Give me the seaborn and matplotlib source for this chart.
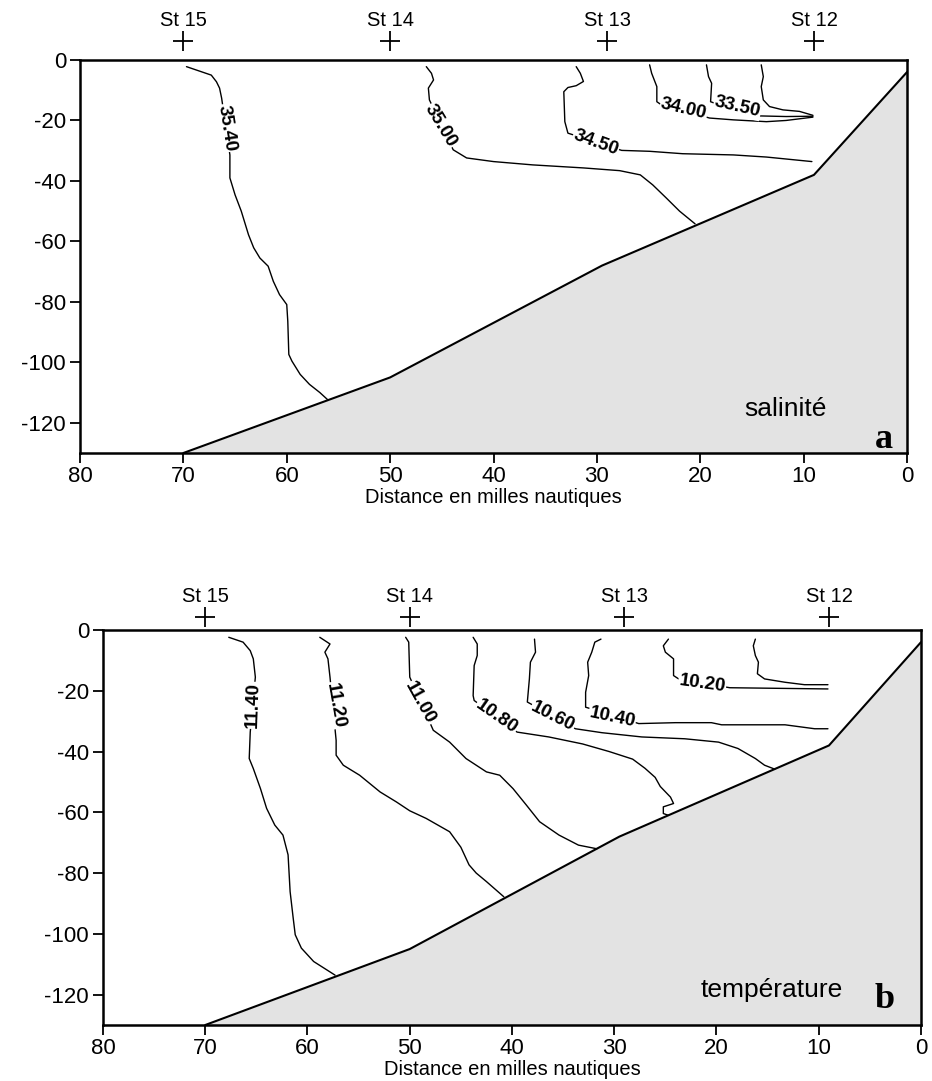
import numpy as np
import pandas as pd
import seaborn as sns
import matplotlib.pyplot as plt

# ---------------------------------------------------------------- data
stations = ["St 15", "St 14", "St 13", "St 12"]
station_dist = [70, 50, 29, 9]

bathy_dist = [70, 50, 29.5, 9, 0]
bathy_depth = [-130, -105, -68, -38, -4]

x_ticks = [80, 70, 60, 50, 40, 30, 20, 10, 0]
y_ticks = [0, -20, -40, -60, -80, -100, -120]

# salinity isolines (distance in nautical miles, depth in m)
sal_levels = [35.40, 35.00, 34.50, 34.00, 33.50, 33.00]
sal_3540_d = [69.7, 67.3, 66.8, 66.5, 66.3, 65.5, 65.5, 65.0, 64.4, 63.7, 63.2, 62.6,
              61.8, 61.3, 60.7, 60.0, 59.9, 59.8, 59.5, 58.7, 57.8, 56.8, 56.0]
sal_3540_z = [-2.2, -5.0, -7.2, -9.3, -12.6, -31.4, -39.0, -44.6, -50.0, -57.8, -62.1, -65.5,
              -68.2, -73.2, -77.6, -80.9, -86.4, -97.4, -99.6, -104.0, -107.3, -110.0, -112.5]
sal_3500_d = [46.5, 46.0, 45.8, 46.3, 46.2, 43.9, 42.6, 40.0, 36.2, 31.3, 27.8, 25.8,
              24.6, 23.3, 22.0, 20.5]
sal_3500_z = [-2.2, -4.4, -6.6, -9.3, -13.2, -29.7, -32.4, -33.6, -34.7, -35.7, -36.6, -38.0,
              -41.3, -45.6, -50.0, -54.2]
sal_3450_d = [32.0, 31.6, 31.3, 32.0, 32.8, 33.2, 33.1, 32.8, 27.6, 24.9, 21.7, 16.8, 13.6, 9.2]
sal_3450_z = [-2.2, -4.4, -7.1, -8.5, -9.1, -10.5, -20.4, -24.2, -29.9, -30.2, -31.0, -31.4,
              -32.1, -33.6]
sal_3400_d = [24.9, 24.7, 24.2, 24.2, 23.9, 19.1, 16.8, 13.6, 11.7, 9.1]
sal_3400_z = [-1.6, -4.4, -8.8, -13.8, -14.5, -19.2, -19.8, -20.4, -20.0, -18.9]
sal_3350_d = [19.4, 19.2, 18.9, 19.0, 18.6, 14.2, 11.7, 9.1]
sal_3350_z = [-1.6, -5.5, -7.7, -13.8, -14.3, -18.5, -18.7, -18.6]
sal_3300_d = [14.1, 13.9, 14.1, 13.9, 13.3, 12.0, 10.4, 9.1]
sal_3300_z = [-1.6, -5.5, -8.8, -13.2, -15.4, -16.5, -17.0, -18.3]

# salinity label anchors and angles
sal_lab_level = [35.40, 35.00, 34.50, 34.00, 33.50]
sal_lab_d = [65.8, 45.1, 30.1, 21.6, 16.4]
sal_lab_z = [-22.5, -21.8, -27.4, -16.3, -15.5]
sal_lab_rot = [-81, -59, -20, -13, -13]

# temperature isolines
tmp_levels = [11.40, 11.20, 11.00, 10.80, 10.60, 10.40, 10.20, 10.00]
tmp_1140_d = [67.7, 66.3, 65.6, 65.3, 65.1, 65.6, 65.7, 65.3, 64.6, 64.0, 63.2, 62.4,
              61.9, 61.7, 61.4, 61.2, 60.6, 59.4, 57.3]
tmp_1140_z = [-2.4, -4.0, -6.8, -9.5, -15.5, -33.6, -42.3, -45.6, -52.2, -58.7, -64.2, -67.5,
              -74.0, -86.1, -94.8, -100.3, -104.7, -109.1, -113.6]
tmp_1120_d = [58.8, 57.8, 58.3, 58.0, 57.8, 57.2, 57.2, 56.5, 54.9, 52.9, 51.3, 50.0,
              48.4, 46.1, 45.0, 44.2, 43.5, 42.5, 40.8]
tmp_1120_z = [-2.4, -4.6, -7.3, -9.5, -15.5, -36.3, -41.2, -44.5, -47.8, -53.3, -56.6, -59.5,
              -62.0, -66.4, -71.5, -77.3, -80.0, -82.8, -87.8]
tmp_1100_d = [50.4, 50.1, 50.0, 47.7, 46.1, 44.5, 42.5, 41.2, 39.9, 38.6, 37.3, 35.4, 33.5, 31.7]
tmp_1100_z = [-2.4, -4.0, -15.5, -33.0, -36.9, -42.3, -46.7, -47.8, -52.2, -57.6, -63.1,
              -67.5, -70.8, -72.0]
tmp_1080_d = [43.8, 43.4, 43.4, 43.7, 43.8, 43.7, 39.5, 36.4, 33.1, 30.5, 28.2, 27.0, 26.0,
              25.5, 24.5, 24.2, 25.2, 25.2, 24.7]
tmp_1080_z = [-2.4, -4.6, -8.4, -11.7, -21.6, -23.2, -33.6, -35.2, -37.5, -40.0, -42.5, -45.5,
              -48.5, -51.5, -55.0, -57.1, -58.2, -60.4, -61.0]
tmp_1060_d = [37.8, 37.7, 38.2, 38.3, 38.5, 33.8, 31.2, 27.3, 23.1, 19.8, 17.9, 16.2, 15.3, 14.3]
tmp_1060_z = [-3.0, -7.3, -10.6, -16.1, -23.7, -32.5, -33.8, -35.2, -35.8, -36.9, -39.0,
              -42.3, -44.5, -45.8]
tmp_1040_d = [31.3, 31.9, 32.2, 32.6, 32.5, 32.8, 32.8, 27.6, 24.0, 20.5, 19.5, 13.3, 10.4, 9.1]
tmp_1040_z = [-3.0, -4.0, -7.3, -10.6, -15.0, -20.5, -25.4, -30.8, -30.5, -30.5, -31.2,
              -31.2, -32.5, -32.5]
tmp_1020_d = [24.7, 25.2, 25.0, 24.2, 24.2, 23.7, 18.7, 9.1]
tmp_1020_z = [-3.0, -5.2, -7.3, -9.5, -15.0, -16.1, -19.0, -19.4]
tmp_1000_d = [16.2, 16.4, 16.2, 15.9, 16.0, 15.3, 13.3, 11.4, 9.1]
tmp_1000_z = [-3.0, -5.2, -8.4, -10.6, -14.4, -16.1, -17.2, -18.0, -18.0]

# temperature label anchors and angles
tmp_lab_level = [11.40, 11.20, 11.00, 10.80, 10.60, 10.40, 10.20]
tmp_lab_d = [65.3, 57.3, 49.0, 41.5, 36.0, 30.2, 21.4]
tmp_lab_z = [-24.8, -24.8, -24.1, -28.5, -28.5, -28.7, -17.8]
tmp_lab_rot = [88, -80, -61, -35, -27, -12, -8]

# ---------------------------------------------------------------- style
sns.set_style("ticks")
plt.rcParams["font.family"] = ["Liberation Sans", "DejaVu Sans"]
plt.rcParams["axes.unicode_minus"] = False
for key in ["text.color", "axes.labelcolor", "xtick.color", "ytick.color",
            "axes.edgecolor"]:
    plt.rcParams[key] = "black"


def isoline_frame(levels, dists, depths):
    rows = []
    for lev, d, z in zip(levels, dists, depths):
        rows.append(pd.DataFrame({"level": lev, "dist": d, "depth": z}))
    return pd.concat(rows, ignore_index=True)


def draw_panel(ax, iso, lab_level, lab_d, lab_z, lab_rot, plus_off, text_off):
    # sea floor
    ax.fill_between(bathy_dist, bathy_depth, -130, color="#e3e3e3", lw=0, zorder=1)
    sns.lineplot(x=bathy_dist, y=bathy_depth, sort=False, estimator=None,
                 color="black", lw=1.5, ax=ax, zorder=3)
    # isolines
    sns.lineplot(data=iso, x="dist", y="depth", units="level", estimator=None,
                 sort=False, color="black", lw=1.0, ax=ax, zorder=2)
    for lev, d, z, r in zip(lab_level, lab_d, lab_z, lab_rot):
        ax.text(d, z, f"{lev:.2f}", rotation=r, rotation_mode="anchor",
                ha="center", va="center", fontsize=13.5, fontweight="bold",
                color="black", bbox=dict(fc="white", ec="none", pad=0.6), zorder=4)
    # stations above the frame
    trans = ax.get_xaxis_transform()
    ax.plot(station_dist, [1 + plus_off] * len(station_dist), ls="none", marker="+",
            ms=14, mew=1.3, color="black", transform=trans, clip_on=False)
    for name, d in zip(stations, station_dist):
        ax.text(d, 1 + text_off, name, ha="center", va="center", fontsize=14.5,
                transform=trans)

    ax.set_xlim(80, 0)
    ax.set_ylim(-130, 0)
    ax.set_xticks(x_ticks)
    ax.set_xticklabels([str(t) for t in x_ticks])
    ax.set_yticks(y_ticks)
    ax.set_yticklabels([str(t) for t in y_ticks])
    ax.tick_params(direction="out", length=7, width=1.3, labelsize=16, pad=3)
    ax.tick_params(axis="x", pad=2)
    for sp in ax.spines.values():
        sp.set_linewidth(1.8)
        sp.set_visible(True)
    ax.set_xlabel("Distance en milles nautiques", fontsize=14.5, labelpad=1)
    ax.set_ylabel("")


fig = plt.figure(figsize=(9.32, 10.81), dpi=100)

ax1 = fig.add_axes([80 / 932, 1 - 453 / 1081, 827 / 932, 393 / 1081])
sal = isoline_frame(sal_levels,
                    [sal_3540_d, sal_3500_d, sal_3450_d, sal_3400_d, sal_3350_d, sal_3300_d],
                    [sal_3540_z, sal_3500_z, sal_3450_z, sal_3400_z, sal_3350_z, sal_3300_z])
draw_panel(ax1, sal, sal_lab_level, sal_lab_d, sal_lab_z, sal_lab_rot, 0.048, 0.10)
ax1.text(11.8, -115.5, "salinité", ha="center", va="center", fontsize=19)
ax1.text(2.2, -125.5, "a", ha="center", va="center", fontsize=26, fontweight="bold",
         family=["Liberation Serif", "DejaVu Serif"])

ax2 = fig.add_axes([103 / 932, 1 - 1025 / 1081, 818 / 932, 395 / 1081])
tmp = isoline_frame(tmp_levels,
                    [tmp_1140_d, tmp_1120_d, tmp_1100_d, tmp_1080_d, tmp_1060_d,
                     tmp_1040_d, tmp_1020_d, tmp_1000_d],
                    [tmp_1140_z, tmp_1120_z, tmp_1100_z, tmp_1080_z, tmp_1060_z,
                     tmp_1040_z, tmp_1020_z, tmp_1000_z])
draw_panel(ax2, tmp, tmp_lab_level, tmp_lab_d, tmp_lab_z, tmp_lab_rot, 0.032, 0.084)
ax2.text(14.6, -118.4, "température", ha="center", va="center", fontsize=19)
ax2.text(3.6, -121.5, "b", ha="center", va="center", fontsize=26, fontweight="bold",
         family=["Liberation Serif", "DejaVu Serif"])

fig.savefig("out.png", dpi=100)
